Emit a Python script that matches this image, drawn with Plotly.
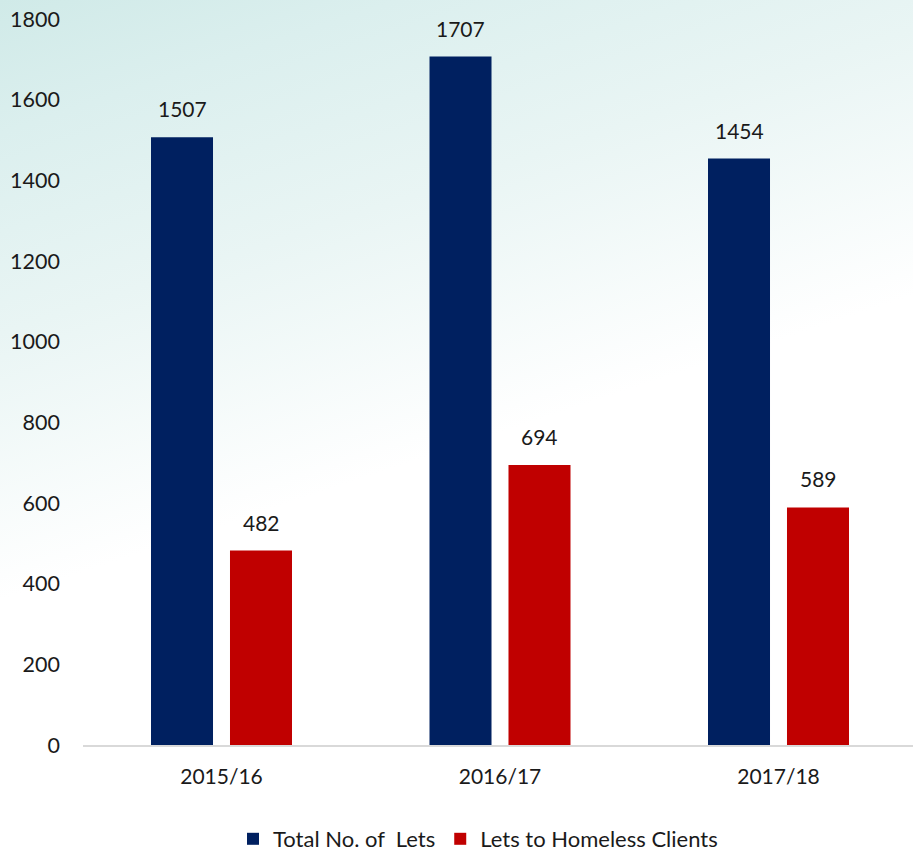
import base64
import plotly.graph_objects as go

years = ["2015/16", "2016/17", "2017/18"]
total_lets = [1507, 1707, 1454]
homeless_lets = [482, 694, 589]

series_names = ["Total No. of  Lets", "Lets to Homeless Clients"]
series_colors = ["#002060", "#C00000"]

FONT = "Lato"
TEXT_COLOR = "#1a1a1a"

W, H = 913, 860
M_L, M_R, M_T, M_B = 83, 0, 19, 115
PW, PH = W - M_L - M_R, H - M_T - M_B

# category band width in pixels and where the first band centre sits
BAND = 278.5
FIRST_CENTRE = 138.5
x_lo = -FIRST_CENTRE / BAND
x_hi = x_lo + PW / BAND

# soft teal-to-white diagonal wash behind the whole chart
svg_bg = (
    f'<svg xmlns="http://www.w3.org/2000/svg" width="{W}" height="{H}">'
    '<defs><linearGradient id="g" gradientUnits="userSpaceOnUse" x1="0" y1="0" x2="200" y2="600">'
    '<stop offset="0" stop-color="#d0eae8"/>'
    '<stop offset="0.2" stop-color="#dbefee"/>'
    '<stop offset="0.5" stop-color="#e9f5f4"/>'
    '<stop offset="0.9" stop-color="#ffffff"/>'
    '</linearGradient></defs>'
    f'<rect width="{W}" height="{H}" fill="url(#g)"/></svg>'
)
bg_uri = "data:image/svg+xml;base64," + base64.b64encode(svg_bg.encode()).decode()

fig = go.Figure()
for name, vals, color in zip(series_names, [total_lets, homeless_lets], series_colors):
    fig.add_trace(go.Bar(x=years, y=vals, name=name, marker=dict(color=color, line=dict(width=0))))

# value labels above each bar
bar_offset = 39.5
for vals, shift in [(total_lets, -bar_offset), (homeless_lets, bar_offset)]:
    for yr, v in zip(years, vals):
        fig.add_annotation(x=yr, y=v, text=str(v), showarrow=False, xshift=shift,
                           yanchor="bottom", yshift=14,
                           font=dict(family=FONT, size=21, color=TEXT_COLOR))

fig.add_layout_image(dict(source=bg_uri, xref="paper", yref="paper",
                          x=-M_L / PW, y=1 + M_T / PH,
                          sizex=W / PW, sizey=H / PH,
                          xanchor="left", yanchor="top",
                          sizing="stretch", layer="below"))

fig.update_layout(
    width=W, height=H,
    margin=dict(l=M_L, r=M_R, t=M_T, b=M_B),
    paper_bgcolor="#ffffff", plot_bgcolor="rgba(0,0,0,0)",
    barmode="group", bargap=0.4327, bargroupgap=0.215,
    font=dict(family=FONT, size=21, color=TEXT_COLOR),
    showlegend=True,
    legend=dict(orientation="h", x=0.5 - 20 / PW, xanchor="center", y=-M_B / PH, yanchor="bottom",
                font=dict(family=FONT, size=22, color=TEXT_COLOR), itemwidth=30,
                bgcolor="rgba(0,0,0,0)"),
)
fig.update_xaxes(range=[x_lo, x_hi], showline=True, linecolor="#d9d9d9", linewidth=2, ticks="",
                 tickfont=dict(family=FONT, size=21), showgrid=False,
                 ticklabelstandoff=12)
fig.update_yaxes(range=[0, 1800], dtick=200, showgrid=False, zeroline=False,
                 showline=False, ticks="", ticklabelstandoff=22,
                 tickfont=dict(family=FONT, size=21.5))

fig.write_html("out.html")
